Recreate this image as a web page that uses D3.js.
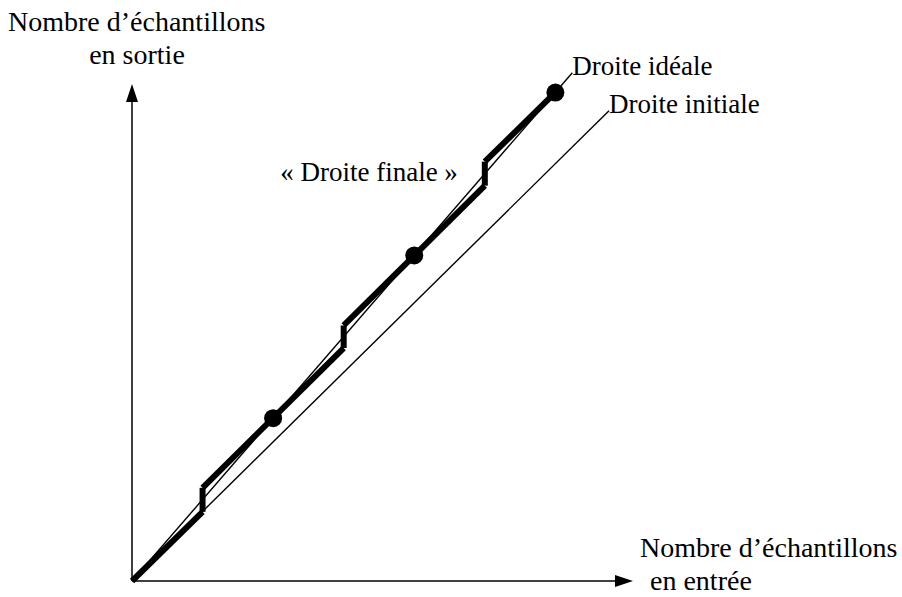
<!DOCTYPE html>
<html>
<head>
<meta charset="utf-8">
<script src="https://cdn.jsdelivr.net/npm/d3@7"></script>
<style>
  html, body { margin: 0; padding: 0; background: #fff; }
  svg { display: block; }
  text { font-family: "Liberation Serif", "Times New Roman", serif; fill: #000; }
</style>
</head>
<body>
<svg id="chart" width="902" height="597"></svg>
<script>
// ---- data (unit: one "period" of the staircase) ----
const axisMaxX = 3.55;
const axisMaxY = 3.52;
const idealLine = [[0, 0], [3.12, 3.60]];
const initialLine = [[0, 0], [3.38, 3.33]];
const finalLine = [[0, 0], [0.5, 0.49], [0.5, 0.66], [1.5, 1.65], [1.5, 1.81], [2.5, 2.80], [2.5, 2.97], [3, 3.46]];
const dots = [[1, 1.153], [2, 2.306], [3, 3.459]];
const yTitle = ["Nombre d’échantillons", "en sortie"];
const xTitle = ["Nombre d’échantillons", "en entrée"];
const lineLabels = [
  { text: "Droite idéale", at: [3.12, 3.60] },
  { text: "Droite initiale", at: [3.38, 3.33] },
  { text: "« Droite finale »", at: [1.05, 2.85] }
];

const svg = d3.select("#chart");
const x = d3.scaleLinear().domain([0, axisMaxX]).range([132, 633]);
const y = d3.scaleLinear().domain([0, axisMaxY]).range([581, 84]);
const line = d3.line().x(d => x(d[0])).y(d => y(d[1]));

// axes (no ticks) with arrowheads
const arrowLen = 18, arrowHalf = 6;
svg.append("line")
  .attr("x1", x(0)).attr("y1", y(0))
  .attr("x2", x(0)).attr("y2", y(axisMaxY) + arrowLen)
  .attr("stroke", "#000").attr("stroke-width", 1.5);
svg.append("path")
  .attr("d", `M${x(0)},${y(axisMaxY)} L${x(0) - arrowHalf},${y(axisMaxY) + arrowLen} L${x(0) + arrowHalf},${y(axisMaxY) + arrowLen} Z`)
  .attr("fill", "#000");
svg.append("line")
  .attr("x1", x(0)).attr("y1", y(0))
  .attr("x2", x(axisMaxX) - arrowLen).attr("y2", y(0))
  .attr("stroke", "#000").attr("stroke-width", 1.5);
svg.append("path")
  .attr("d", `M${x(axisMaxX)},${y(0)} L${x(axisMaxX) - arrowLen},${y(0) - arrowHalf} L${x(axisMaxX) - arrowLen},${y(0) + arrowHalf} Z`)
  .attr("fill", "#000");

// thin lines
svg.append("path").datum(initialLine).attr("d", line)
  .attr("fill", "none").attr("stroke", "#000").attr("stroke-width", 1.4);
svg.append("path").datum(idealLine).attr("d", line)
  .attr("fill", "none").attr("stroke", "#000").attr("stroke-width", 1.4);

// thick staircase ("droite finale")
const segs = d3.pairs(finalLine);
svg.append("g").selectAll("line").data(segs).join("line")
  .attr("x1", d => x(d[0][0])).attr("y1", d => y(d[0][1]))
  .attr("x2", d => x(d[1][0])).attr("y2", d => y(d[1][1]))
  .attr("stroke", "#000").attr("stroke-width", 6).attr("stroke-linecap", "butt");

// dots
svg.append("g").selectAll("circle").data(dots).join("circle")
  .attr("cx", d => x(d[0])).attr("cy", d => y(d[1])).attr("r", 9).attr("fill", "#000");

// axis titles
svg.append("text").attr("x", 8).attr("y", 31).attr("font-size", 28).text(yTitle[0]);
svg.append("text").attr("x", 137).attr("y", 64).attr("font-size", 28).attr("text-anchor", "middle").text(yTitle[1]);
svg.append("text").attr("x", 640).attr("y", 557).attr("font-size", 28).text(xTitle[0]);
svg.append("text").attr("x", 650).attr("y", 590).attr("font-size", 28).text(xTitle[1]);

// line labels
svg.append("g").selectAll("text").data(lineLabels).join("text")
  .attr("x", d => x(d.at[0]))
  .attr("y", d => y(d.at[1]) + 2)
  .attr("font-size", 27)
  .text(d => d.text);
</script>
</body>
</html>
